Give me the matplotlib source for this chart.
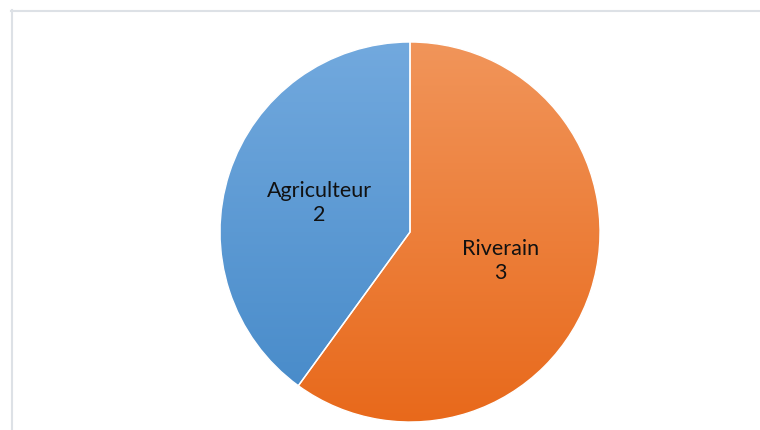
import numpy as np
import matplotlib.pyplot as plt
from matplotlib.colors import LinearSegmentedColormap
from matplotlib.lines import Line2D

# données
categories = ["Riverain", "Agriculteur"]
valeurs = [3, 2]
# couleurs en dégradé (haut -> bas)
degrades = [("#F1955A", "#E8691B"), ("#72A9DE", "#4589C8")]

plt.rcParams['font.family'] = ['Lato', 'DejaVu Sans']

fig = plt.figure(figsize=(7.6, 4.3), dpi=100)
ax = fig.add_axes([0.2895, 0.0186, 0.5, 0.8837])

wedges, textes = ax.pie(valeurs, startangle=90, counterclock=False,
                        labels=[f"{c}\n{v}" for c, v in zip(categories, valeurs)],
                        labeldistance=0.5,
                        wedgeprops=dict(edgecolor="white", linewidth=1),
                        textprops=dict(fontsize=15.5, color="#111111",
                                       ha="center", va="center", linespacing=1.25))
ax.set_xlim(-1, 1)
ax.set_ylim(-1, 1)
ax.set_aspect("equal")

# remplissage en dégradé vertical, découpé sur chaque part
grad = np.linspace(0, 1, 256).reshape(-1, 1)
for w, (haut, bas) in zip(wedges, degrades):
    w.set_facecolor("none")
    cmap = LinearSegmentedColormap.from_list("g", [haut, bas])
    im = ax.imshow(grad, cmap=cmap, extent=(-1, 1, -1, 1), origin="upper",
                   aspect="auto", zorder=0.5)
    im.set_clip_path(w)
ax.set_xlim(-1, 1)
ax.set_ylim(-1, 1)

# cadre du graphique
c = "#DDE1E6"
fig.add_artist(Line2D([11.5 / 760, 11.5 / 760], [0, 1 - 10 / 430], color=c, lw=1.5,
                      transform=fig.transFigure))
fig.add_artist(Line2D([11 / 760, 1], [1 - 10.5 / 430, 1 - 10.5 / 430], color=c, lw=1.5,
                      transform=fig.transFigure))

fig.savefig("out.png", dpi=100)
